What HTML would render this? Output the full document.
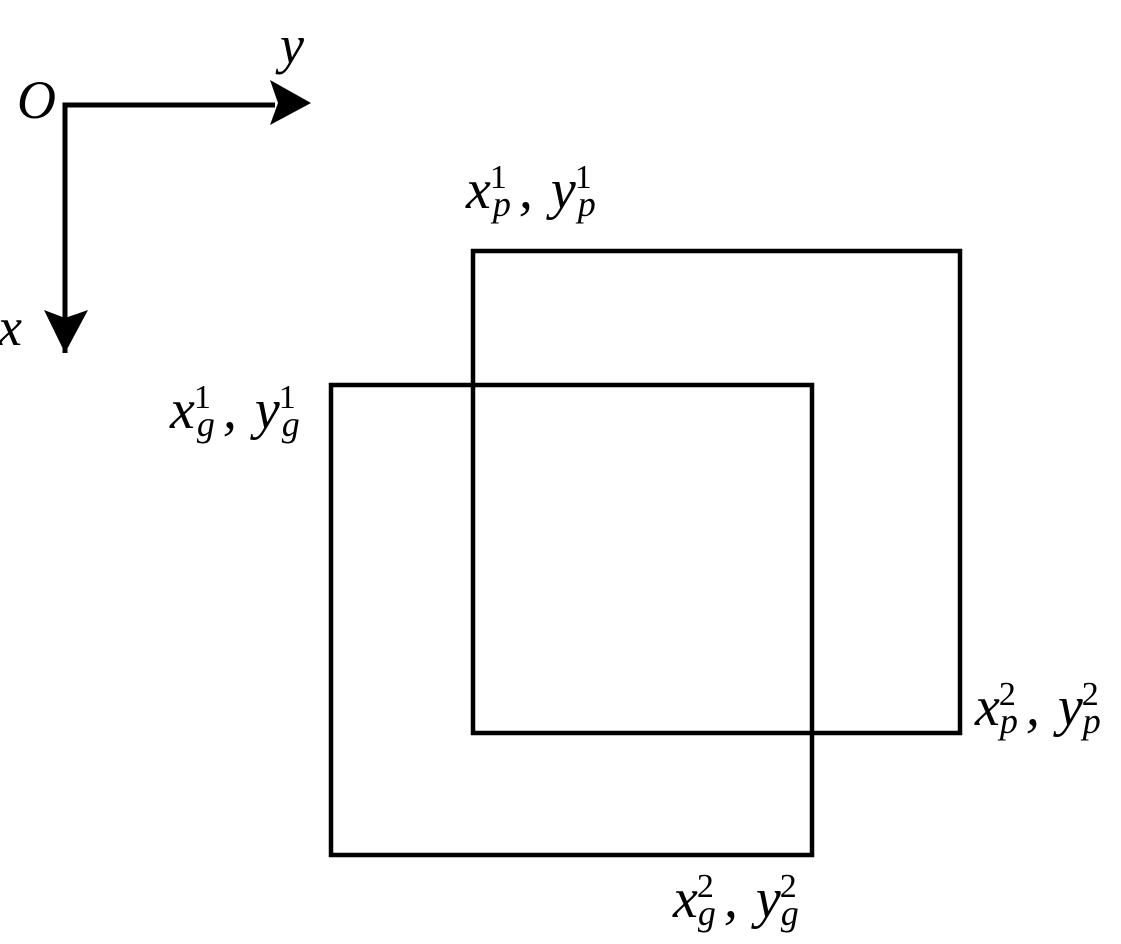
<!DOCTYPE html>
<html><head><meta charset="utf-8"><style>
html,body{margin:0;padding:0;background:#fff;}
svg{display:block;}
</style></head><body>
<svg width="1121" height="944" viewBox="0 0 1121 944" xmlns="http://www.w3.org/2000/svg">
<g stroke="#000" stroke-width="5" fill="none">
<polyline points="65,353 65,105 275,105"/>
<rect x="473" y="251" width="487" height="482" stroke-width="4.5"/>
<rect x="331" y="385" width="481" height="470" stroke-width="4.5"/>
</g>
<polygon points="270,80 311,103 270,125 278,103" fill="#000"/>
<polygon points="44,310 65,353 88,310 65,318" fill="#000"/>
<g font-family="'Liberation Serif', 'DejaVu Serif', serif" font-style="italic" fill="#000">
<text x="17" y="118" font-size="54">O</text>
<text x="280" y="63" font-size="54">y</text>
<text x="-2" y="345" font-size="54">x</text>

<text x="466" y="208" font-size="56">x<tspan font-style="normal" font-size="34" dx="-1" dy="-20">1</tspan><tspan font-size="36" dx="-14" dy="28">p</tspan><tspan dx="8" dy="-8">,</tspan><tspan dx="18">y</tspan><tspan font-style="normal" font-size="34" dx="-1" dy="-20">1</tspan><tspan font-size="36" dx="-14" dy="28">p</tspan></text>

<text x="170" y="428" font-size="56">x<tspan font-style="normal" font-size="34" dx="-1" dy="-20">1</tspan><tspan font-size="36" dx="-14" dy="28">g</tspan><tspan dx="8" dy="-8">,</tspan><tspan dx="18">y</tspan><tspan font-style="normal" font-size="34" dx="-1" dy="-20">1</tspan><tspan font-size="36" dx="-14" dy="28">g</tspan></text>

<text x="975" y="725" font-size="56">x<tspan font-style="normal" font-size="34" dx="-1" dy="-20">2</tspan><tspan font-size="36" dx="-16" dy="28">p</tspan><tspan dx="8" dy="-8">,</tspan><tspan dx="18">y</tspan><tspan font-style="normal" font-size="34" dx="-1" dy="-20">2</tspan><tspan font-size="36" dx="-16" dy="28">p</tspan></text>

<text x="673" y="917" font-size="56">x<tspan font-style="normal" font-size="34" dx="-1" dy="-20">2</tspan><tspan font-size="36" dx="-16" dy="28">g</tspan><tspan dx="8" dy="-8">,</tspan><tspan dx="18">y</tspan><tspan font-style="normal" font-size="34" dx="-1" dy="-20">2</tspan><tspan font-size="36" dx="-16" dy="28">g</tspan></text>
</g>
</svg>
</body></html>
